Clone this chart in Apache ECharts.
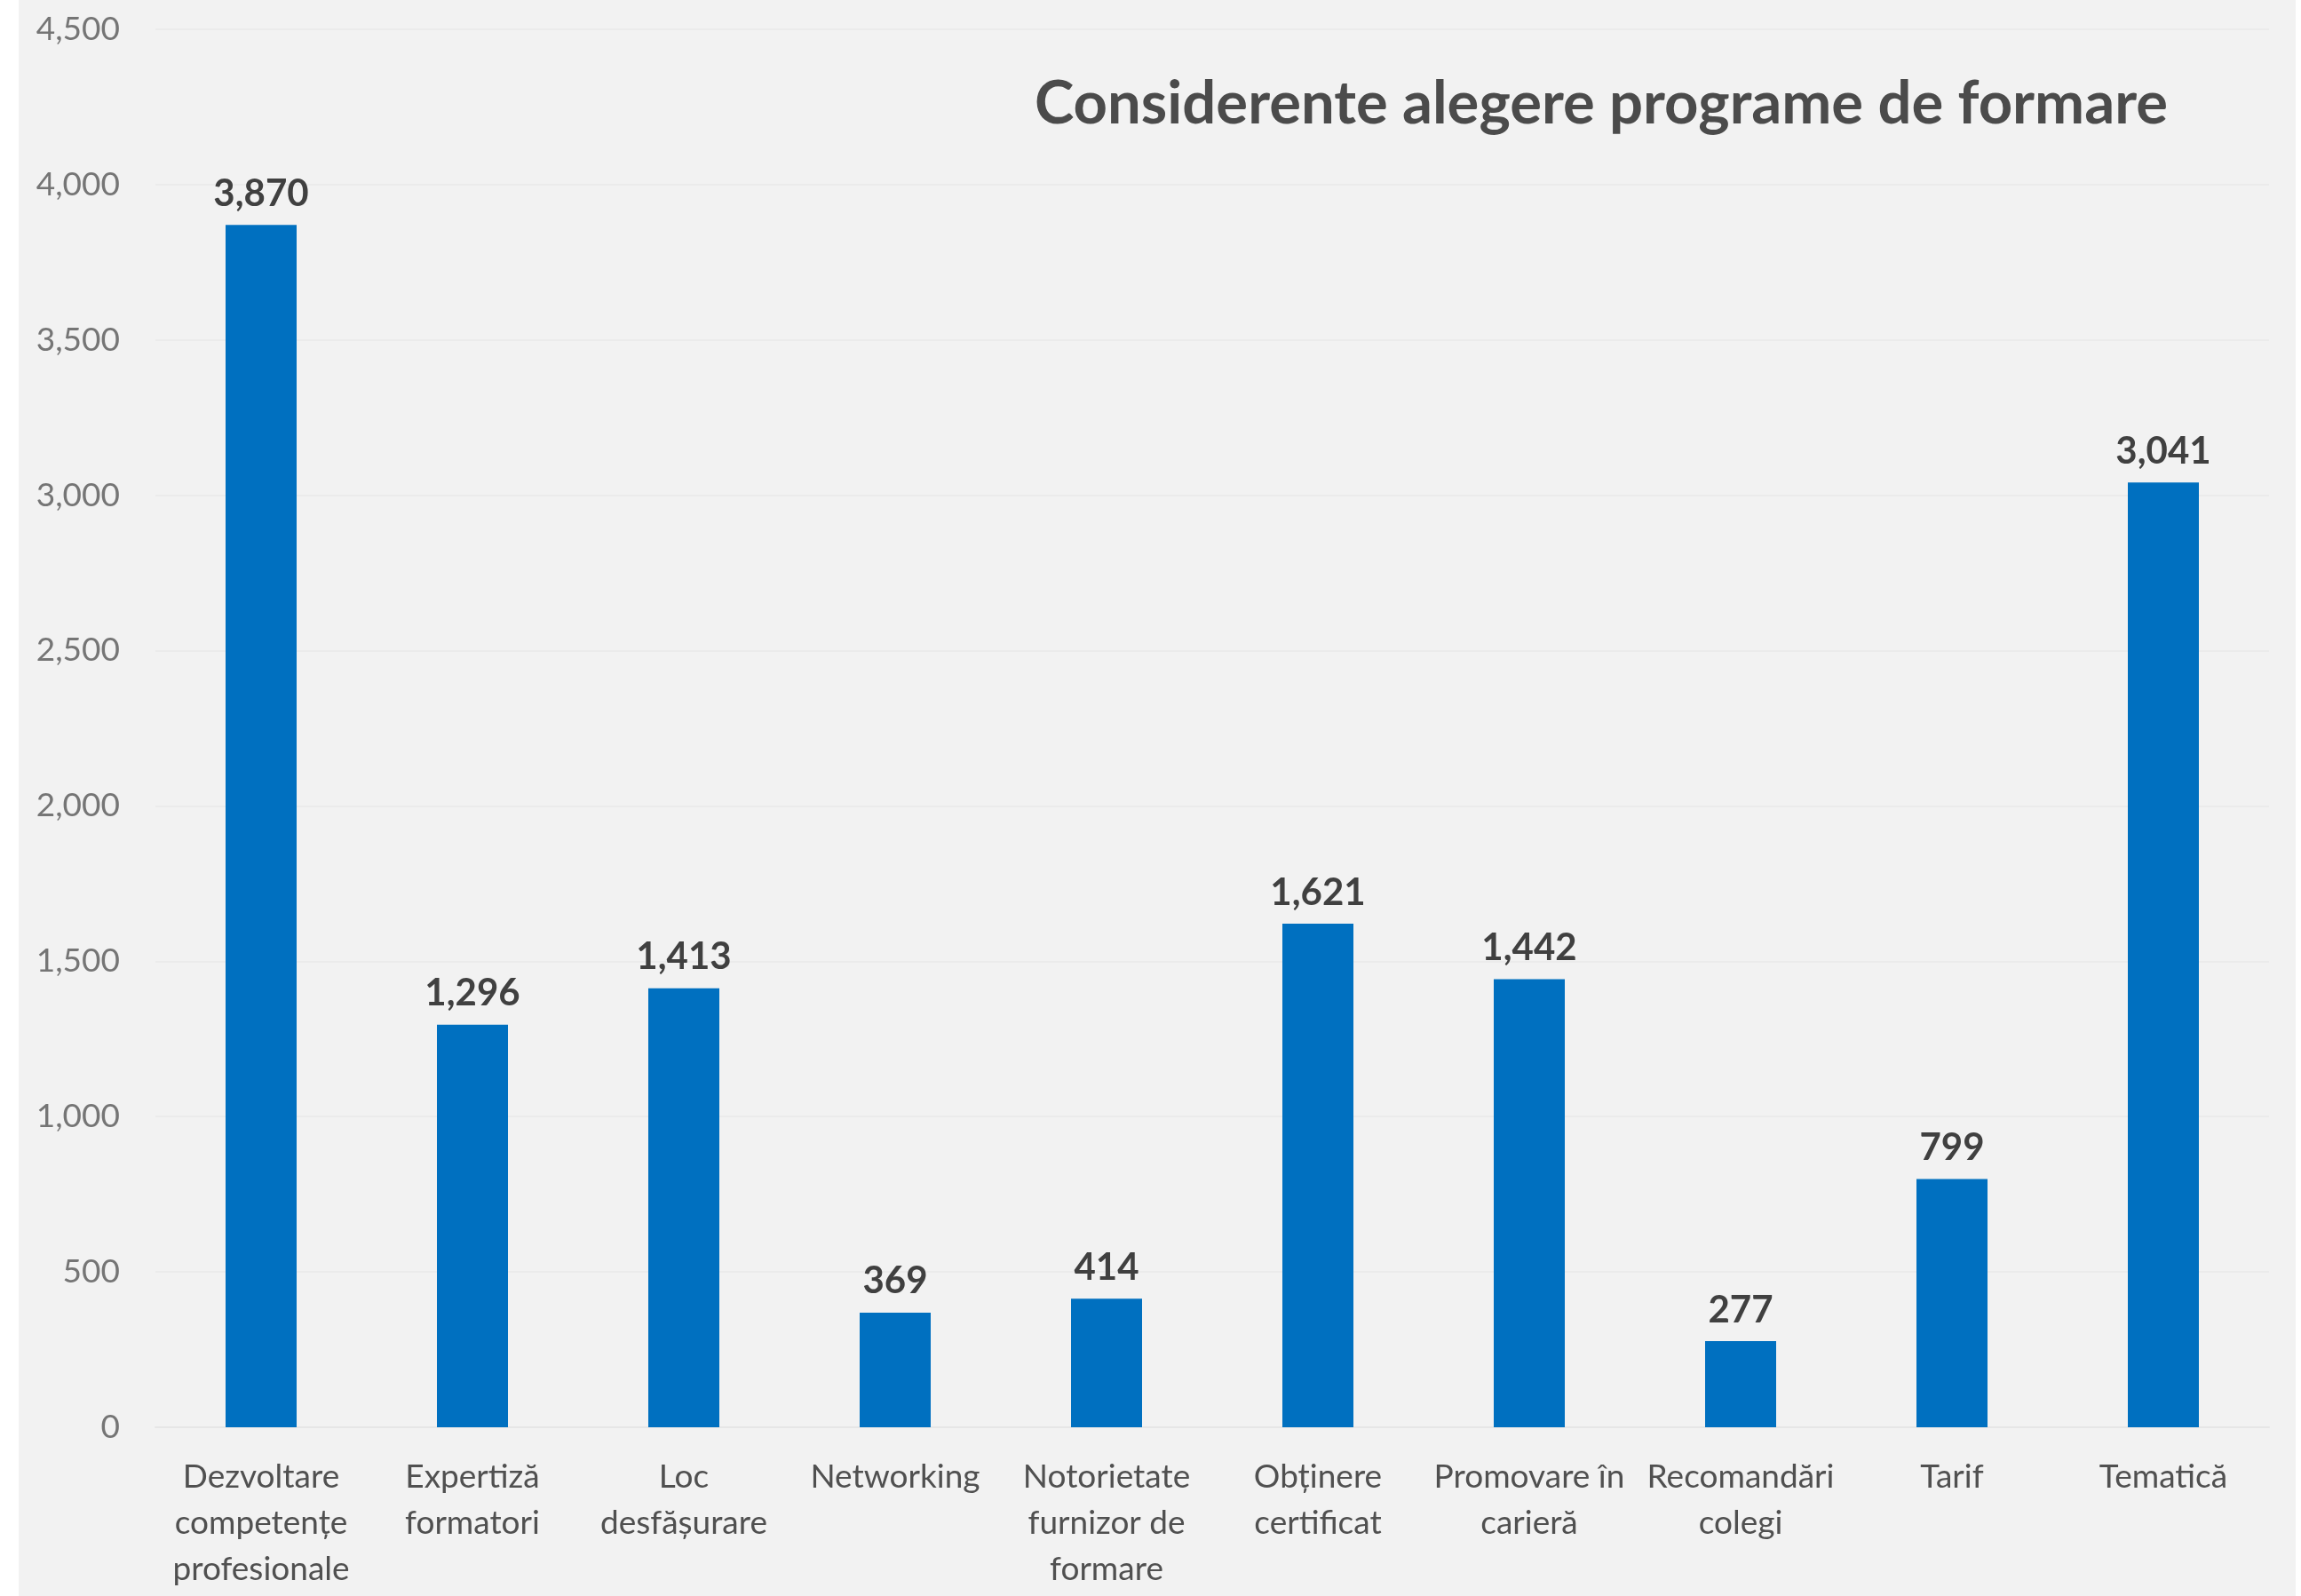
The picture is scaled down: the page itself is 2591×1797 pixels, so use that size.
<!DOCTYPE html>
<html>
<head>
<meta charset="utf-8">
<script src="https://cdn.jsdelivr.net/npm/echarts@6/dist/echarts.min.js"></script>
<style>
  html, body { margin: 0; padding: 0; background: #ffffff; }
  #chart { position: absolute; left: 21px; top: 0; width: 2564px; height: 1797px; }
</style>
</head>
<body>
<div id="chart"></div>
<script>
// Reasons for choosing training programmes (number of answers)
const categories = [
  'Dezvoltare\ncompetențe\nprofesionale',
  'Expertiză\nformatori',
  'Loc\ndesfășurare',
  'Networking',
  'Notorietate\nfurnizor de\nformare',
  'Obținere\ncertificat',
  'Promovare în\ncarieră',
  'Recomandări\ncolegi',
  'Tarif',
  'Tematică'
];
const answers = [3870, 1296, 1413, 369, 414, 1621, 1442, 277, 799, 3041];
const titleText = 'Considerente alegere programe de formare';

const fmt = v => Number(v).toLocaleString('en-US');
const FONT = 'Lato';

const chart = echarts.init(document.getElementById('chart'));
chart.setOption({
  backgroundColor: '#f2f2f2',
  animation: false,
  title: {
    text: titleText,
    left: 1777,
    top: 79,
    textAlign: 'center',
    textStyle: { fontFamily: FONT, fontWeight: 'bold', fontSize: 67, color: '#4b4b4b' }
  },
  grid: { left: 154, right: 30, top: 33, bottom: 190, containLabel: false },
  xAxis: {
    type: 'category',
    data: categories,
    axisTick: { show: false },
    axisLine: { lineStyle: { color: '#e6e6e6', width: 2 } },
    axisLabel: {
      interval: 0,
      margin: 30,
      fontFamily: FONT,
      fontSize: 37,
      lineHeight: 52,
      color: '#505050'
    }
  },
  yAxis: {
    type: 'value',
    min: 0,
    max: 4500,
    interval: 500,
    axisLine: { show: false },
    axisTick: { show: false },
    splitLine: { lineStyle: { color: '#ebebeb', width: 2 } },
    axisLabel: {
      margin: 40,
      fontFamily: FONT,
      fontSize: 37,
      color: '#757575',
      formatter: fmt
    }
  },
  series: [{
    type: 'bar',
    data: answers,
    barWidth: 80,
    itemStyle: { color: '#0070c0' },
    label: {
      show: true,
      position: 'top',
      distance: 14,
      fontFamily: FONT,
      fontWeight: 'bold',
      fontSize: 42,
      color: '#404040',
      formatter: p => fmt(p.value)
    }
  }]
});
</script>
</body>
</html>
